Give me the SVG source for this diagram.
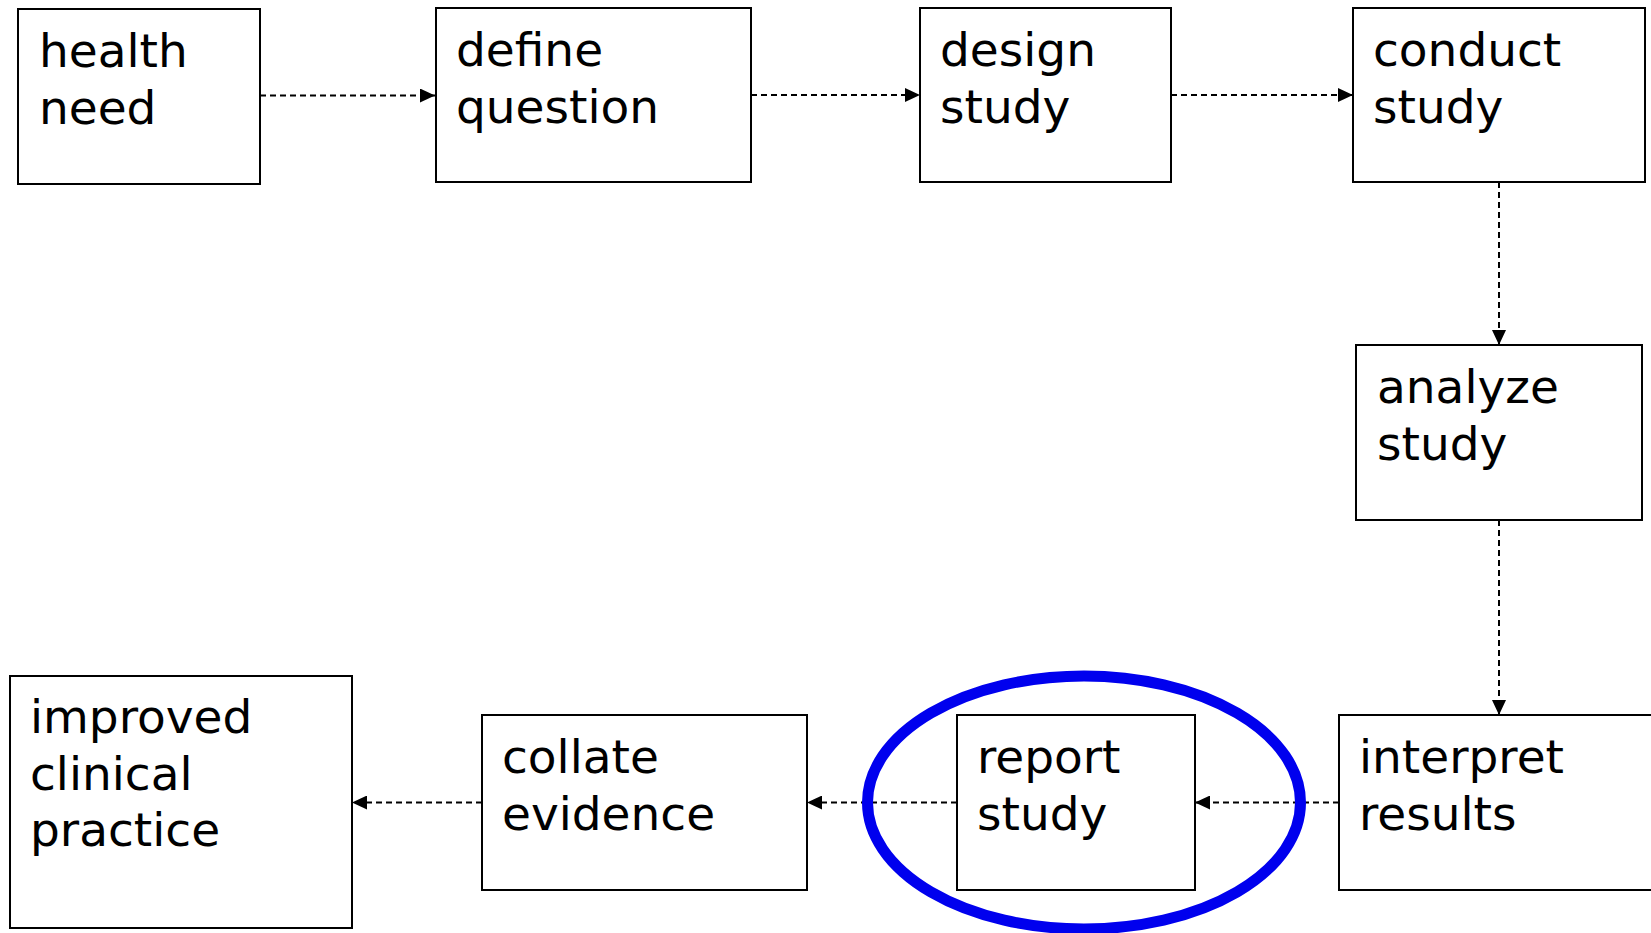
<svg xmlns="http://www.w3.org/2000/svg" width="1651" height="933" viewBox="0 0 1651 933">
<defs>
<marker id="ah" viewBox="0 0 15 14" refX="15" refY="7" markerWidth="15" markerHeight="14" markerUnits="userSpaceOnUse" orient="auto">
<path d="M0,0 L15,7 L0,14 Z" fill="#000"/>
</marker>
<style>
.box{fill:#fff;stroke:#000;stroke-width:2}
.lbl{font-family:"DejaVu Sans",Verdana,sans-serif;font-size:47px;fill:#000}
.conn{fill:none;stroke:#000;stroke-width:2;stroke-dasharray:6 4;marker-end:url(#ah)}
</style>
</defs>
<rect width="1651" height="933" fill="#fff"/>
<g id="connectors">
<line class="conn" x1="260" y1="95.5" x2="435" y2="95.5"/>
<line class="conn" x1="751" y1="95" x2="920" y2="95"/>
<line class="conn" x1="1171" y1="95" x2="1353" y2="95"/>
<line class="conn" x1="1499" y1="182" x2="1499" y2="345"/>
<line class="conn" x1="1499" y1="520" x2="1499" y2="715"/>
<line class="conn" x1="1339" y1="802.5" x2="1195" y2="802.5"/>
<line class="conn" x1="957" y1="802.5" x2="807" y2="802.5"/>
<line class="conn" x1="482" y1="802.5" x2="352" y2="802.5"/>
</g>
<g id="health-need"><rect class="box" x="18" y="9" width="242" height="175"/><text class="lbl" x="39" y="67">health<tspan x="39" dy="56.5">need</tspan></text></g>
<g id="define-question"><rect class="box" x="436" y="8" width="315" height="174"/><text class="lbl" x="456" y="66">define<tspan x="456" dy="56.5">question</tspan></text></g>
<g id="design-study"><rect class="box" x="920" y="8" width="251" height="174"/><text class="lbl" x="940" y="66">design<tspan x="940" dy="56.5">study</tspan></text></g>
<g id="conduct-study"><rect class="box" x="1353" y="8" width="292" height="174"/><text class="lbl" x="1373" y="66">conduct<tspan x="1373" dy="56.5">study</tspan></text></g>
<g id="analyze-study"><rect class="box" x="1356" y="345" width="286" height="175"/><text class="lbl" x="1377" y="403">analyze<tspan x="1377" dy="56.5">study</tspan></text></g>
<g id="interpret-results"><rect class="box" x="1339" y="715" width="330" height="175"/><text class="lbl" x="1359" y="773">interpret<tspan x="1359" dy="56.5">results</tspan></text></g>
<g id="report-study"><rect class="box" x="957" y="715" width="238" height="175"/><text class="lbl" x="977" y="773">report<tspan x="977" dy="56.5">study</tspan></text></g>
<g id="collate-evidence"><rect class="box" x="482" y="715" width="325" height="175"/><text class="lbl" x="502" y="773">collate<tspan x="502" dy="56.5">evidence</tspan></text></g>
<g id="improved-clinical-practice"><rect class="box" x="10" y="676" width="342" height="252"/><text class="lbl" x="30" y="733">improved<tspan x="30" dy="56.5">clinical</tspan><tspan x="30" dy="56.5">practice</tspan></text></g>
<g id="highlight"><ellipse cx="1084" cy="802.5" rx="216.5" ry="126.5" fill="none" stroke="#0000ee" stroke-width="11"/></g>
</svg>
